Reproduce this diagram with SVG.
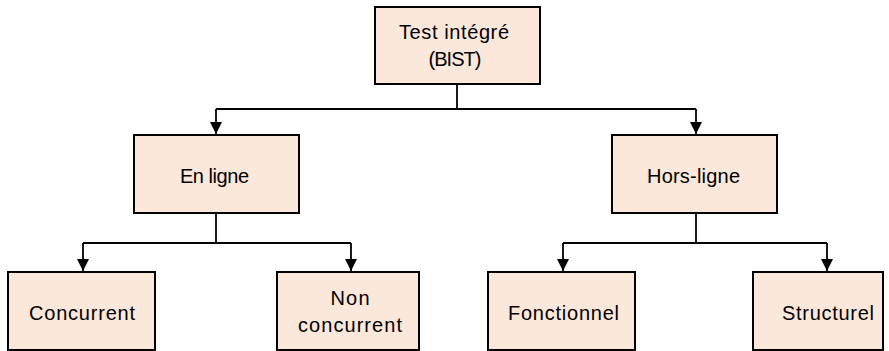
<svg xmlns="http://www.w3.org/2000/svg" width="889" height="351" viewBox="0 0 889 351">
  <style>
    .box { fill: #FCE8DA; stroke: #000; stroke-width: 2; }
    .lbl { font-family: "Liberation Sans", Arial, sans-serif; font-size: 20px; fill: #000; text-anchor: middle; }
    .wire { fill: none; stroke: #000; stroke-width: 1.8; }
  </style>
  <defs>
    <marker id="arrow" viewBox="0 0 12 12" refX="12" refY="6" markerWidth="12" markerHeight="12" markerUnits="userSpaceOnUse" orient="auto">
      <path d="M0,0 L12,6 L0,12 Z" fill="#000"/>
    </marker>
  </defs>

  <g id="connectors">
    <path class="wire" d="M457,84 V109"/>
    <path class="wire" d="M216,109 H696"/>
    <path class="wire" d="M216,109 V134" marker-end="url(#arrow)"/>
    <path class="wire" d="M696,109 V134" marker-end="url(#arrow)"/>
    <path class="wire" d="M216,213 V243 M83,243 H351"/>
    <path class="wire" d="M83,243 V271" marker-end="url(#arrow)"/>
    <path class="wire" d="M351,243 V271" marker-end="url(#arrow)"/>
    <path class="wire" d="M696,213 V243 M563,243 H827"/>
    <path class="wire" d="M563,243 V271" marker-end="url(#arrow)"/>
    <path class="wire" d="M827,243 V271" marker-end="url(#arrow)"/>
  </g>

  <g id="bist">
    <rect class="box" x="375" y="7" width="165" height="77"/>
    <text class="lbl" x="454" y="39" textLength="110">Test intégré</text>
    <text class="lbl" x="455" y="66" textLength="53">(BIST)</text>
  </g>

  <g id="en-ligne">
    <rect class="box" x="134" y="135" width="165" height="78"/>
    <text class="lbl" x="214.5" y="183" textLength="69">En ligne</text>
  </g>

  <g id="hors-ligne">
    <rect class="box" x="612" y="135" width="165" height="78"/>
    <text class="lbl" x="693.5" y="183" textLength="93">Hors-ligne</text>
  </g>

  <g id="concurrent">
    <rect class="box" x="8" y="272" width="147" height="78"/>
    <text class="lbl" x="82" y="320" textLength="106">Concurrent</text>
  </g>

  <g id="non-concurrent">
    <rect class="box" x="277" y="272" width="142" height="78"/>
    <text class="lbl" x="350" y="305" textLength="39">Non</text>
    <text class="lbl" x="350" y="332" textLength="104">concurrent</text>
  </g>

  <g id="fonctionnel">
    <rect class="box" x="488" y="272" width="147" height="78"/>
    <text class="lbl" x="563.5" y="320" textLength="111">Fonctionnel</text>
  </g>

  <g id="structurel">
    <rect class="box" x="753" y="272" width="130" height="78"/>
    <text class="lbl" x="828" y="320" textLength="92">Structurel</text>
  </g>
</svg>
